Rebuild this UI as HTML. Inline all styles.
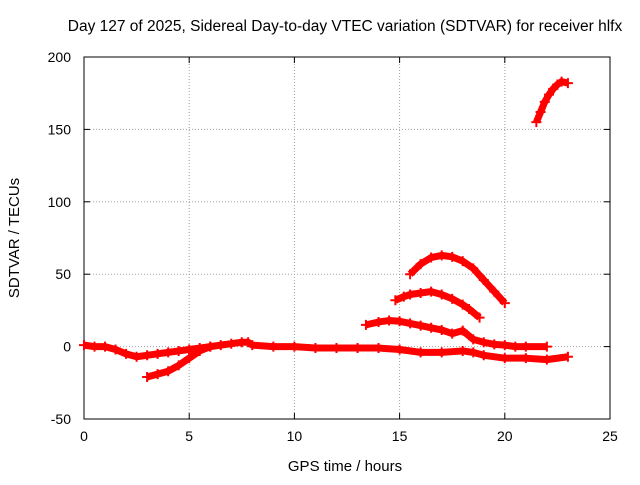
<!DOCTYPE html>
<html><head><meta charset="utf-8"><style>
body{margin:0;background:#fff;}
svg text{font-family:"Liberation Sans",sans-serif;font-size:14px;fill:#000;}
</style></head><body>
<svg id="chart" width="640" height="480" xmlns="http://www.w3.org/2000/svg">
<text x="345" y="31" text-anchor="middle" style="font-size:15.5px">Day 127 of 2025, Sidereal Day-to-day VTEC variation (SDTVAR) for receiver hlfx</text>
<text x="345" y="471" text-anchor="middle" style="font-size:15px">GPS time / hours</text>
<text transform="translate(19,238) rotate(-90)" text-anchor="middle" style="font-size:15px">SDTVAR / TECUs</text>
<g id="grid"></g>
<g id="axes"></g>
<g id="series"></g>
</svg>
<script>
const xTicks=[0,5,10,15,20,25];
const yTicks=[-50,0,50,100,150,200];
const arc1T=[0,0.5,1,1.5,2,2.5,3,3.5,4,4.5,5,5.5,6,6.5,7,7.5,7.8,8,9,10,11,12,13,14,15,16,17,18,18.5,19,20,21,22,23];
const arc1V=[1,0,0,-2,-5,-7,-6,-5,-4,-3,-2,-1,0,1,2,3,3,1,0,0,-1,-1,-1,-1,-2,-4,-4,-3,-4,-6,-8,-8,-9,-7];
const arc2T=[3,3.5,4,4.5,5,5.5,6];
const arc2V=[-21,-19,-17,-13,-8,-3,0];
const arc3T=[13.4,14,14.5,15,15.5,16,16.5,17,17.5,18,18.5,19,19.5,20,20.5,21,22];
const arc3V=[15,17,18,17.5,16,14.5,13,11.5,9,11,5,3,1.5,1,0,0,0];
const arc4T=[14.8,15.2,15.5,16,16.5,17,17.5,18,18.3,18.8];
const arc4V=[32,34.5,36,37,38,36,33,29,26,20];
const arc5T=[15.5,16,16.5,17,17.5,18,18.5,19,19.5,20];
const arc5V=[50,57,61.5,63,62,59,54,46,38,30];
const arc6T=[21.5,21.7,21.9,22.1,22.3,22.5,22.7,23];
const arc6V=[155,162,169,174,178,181,183,182];
const X0=84,X1=610,Y0=419,Y1=57;
const sx=t=>X0+(t-0)/25*(X1-X0);
const sy=v=>Y0-(v+50)/250*(Y0-Y1);
const NS="http://www.w3.org/2000/svg";
function mk(tag,attrs,parent){const e=document.createElementNS(NS,tag);for(const k in attrs)e.setAttribute(k,attrs[k]);parent.appendChild(e);return e;}
const grid=document.getElementById('grid'),axes=document.getElementById('axes'),ser=document.getElementById('series');
xTicks.forEach(t=>{const x=sx(t);
 if(t>0&&t<25){const l=mk('line',{x1:x,x2:x,y1:Y0,y2:Y1,stroke:'#a0a0a0','stroke-dasharray':'1,2'},grid);}
 mk('line',{x1:x,x2:x,y1:Y0,y2:Y0-6,stroke:'#000'},axes);mk('line',{x1:x,x2:x,y1:Y1,y2:Y1+6,stroke:'#000'},axes);
 const tx=mk('text',{x:x,y:Y0+22,'text-anchor':'middle'},axes);tx.textContent=t;
 });
yTicks.forEach(v=>{const y=sy(v);
 if(v>-50&&v<200){const l=mk('line',{x1:X0,x2:X1,y1:y,y2:y,stroke:'#a0a0a0','stroke-dasharray':'1,2'},grid);}
 mk('line',{x1:X0,x2:X0+6,y1:y,y2:y,stroke:'#000'},axes);mk('line',{x1:X1,x2:X1-6,y1:y,y2:y,stroke:'#000'},axes);
 const tx=mk('text',{x:X0-13,y:y+5,'text-anchor':'end'},axes);tx.textContent=v;
 });
mk('rect',{x:X0,y:Y1,width:X1-X0,height:Y0-Y1,fill:'none',stroke:'#000'},axes);
[[arc1T,arc1V],[arc2T,arc2V],[arc3T,arc3V],[arc4T,arc4V],[arc5T,arc5V],[arc6T,arc6V]].forEach((a,i)=>{
 const pts=a[0].map((t,j)=>sx(t)+','+sy(a[1][j])).join(' ');
 const p=mk('polyline',{points:pts,fill:'none',stroke:'#f00','stroke-width':7,'stroke-linejoin':'round'},ser);
 
 
 a[0].forEach((t,j)=>{const x=sx(t),y=sy(a[1][j]);
  mk('path',{d:`M${x-5},${y}h10M${x},${y-5}v10`,stroke:'#f00','stroke-width':2},ser);});
});
</script>
</body></html>
